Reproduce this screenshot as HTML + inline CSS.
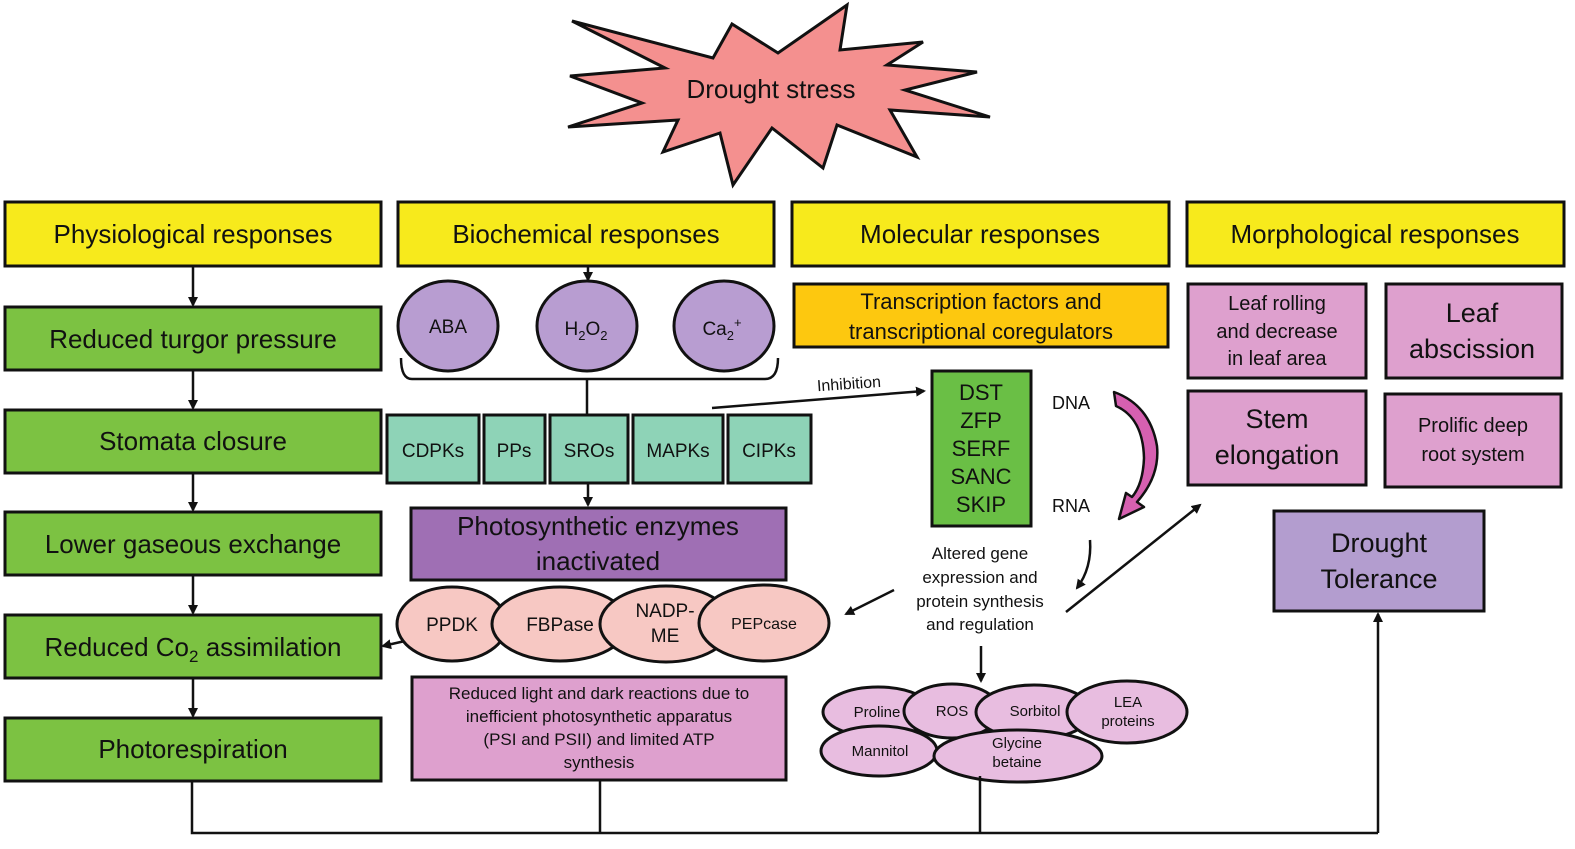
<!DOCTYPE html>
<html><head><meta charset="utf-8"><style>
html,body{margin:0;padding:0;background:#fff}
svg{display:block}
text{font-family:"Liberation Sans",Arial,sans-serif;fill:#111}
</style></head><body>
<svg width="1575" height="849" viewBox="0 0 1575 849" xmlns="http://www.w3.org/2000/svg">
<defs>
<marker id="ah" markerWidth="10" markerHeight="10" refX="8" refY="5" orient="auto" markerUnits="userSpaceOnUse">
<path d="M0,0 L10,5 L0,10 z" fill="#111"/></marker>
</defs>
<polygon points="572,21 713,58 732,24 778,53 847,5 840,50 923,42 887,65 977,72 905,90 990,117 890,110 917,157 837,125 823,168 772,128 733,185 720,133 663,152 678,120 568,127 642,103 570,76 665,68" fill="#f4908f" stroke="#111" stroke-width="3" stroke-linejoin="miter"/>
<text x="771" y="98" font-size="26" text-anchor="middle">Drought stress</text>

<g stroke="#111" stroke-width="3" fill="#f7ea1c">
<rect x="5" y="202" width="376" height="64"/>
<rect x="398" y="202" width="376" height="64"/>
<rect x="792" y="202" width="377" height="64"/>
<rect x="1187" y="202" width="377" height="64"/>
</g>
<g font-size="26" text-anchor="middle">
<text x="193" y="243">Physiological responses</text>
<text x="586" y="243">Biochemical responses</text>
<text x="980" y="243">Molecular responses</text>
<text x="1375" y="243">Morphological responses</text>
</g>

<g stroke="#111" stroke-width="3" fill="#7cc242">
<rect x="5" y="307" width="376" height="63"/>
<rect x="5" y="410" width="376" height="63"/>
<rect x="5" y="512" width="376" height="63"/>
<rect x="5" y="615" width="376" height="63"/>
<rect x="5" y="718" width="376" height="63"/>
</g>
<g font-size="26" text-anchor="middle">
<text x="193" y="348">Reduced turgor pressure</text>
<text x="193" y="450">Stomata closure</text>
<text x="193" y="553">Lower gaseous exchange</text>
<text x="193" y="656">Reduced Co<tspan font-size="17" dy="6">2</tspan><tspan dy="-6"> assimilation</tspan></text>
<text x="193" y="758">Photorespiration</text>
</g>
<g stroke="#111" stroke-width="2.5" marker-end="url(#ah)">
<line x1="193" y1="267" x2="193" y2="305"/>
<line x1="193" y1="371" x2="193" y2="408"/>
<line x1="193" y1="474" x2="193" y2="510"/>
<line x1="193" y1="576" x2="193" y2="613"/>
<line x1="193" y1="679" x2="193" y2="716"/>
<line x1="588" y1="267" x2="588" y2="280"/>
<line x1="588" y1="483" x2="588" y2="505"/>
<line x1="405" y1="641" x2="383" y2="646"/>
</g>

<g stroke="#111" stroke-width="3" fill="#b89dd1">
<ellipse cx="448" cy="326" rx="50" ry="45"/>
<ellipse cx="587" cy="326" rx="50" ry="45"/>
<ellipse cx="724" cy="326" rx="50" ry="45"/>
</g>
<g font-size="19" text-anchor="middle">
<text x="448" y="333">ABA</text>
<text x="586" y="335">H<tspan font-size="13" dy="5">2</tspan><tspan dy="-5">O</tspan><tspan font-size="13" dy="5">2</tspan></text>
<text x="722" y="335">Ca<tspan font-size="13" dy="5">2</tspan><tspan font-size="13" dy="-13">+</tspan></text>
</g>
<path d="M401,358 Q401,379 412,379 L765,379 Q778,379 778,358" fill="none" stroke="#111" stroke-width="2.5"/>
<line x1="587" y1="379" x2="587" y2="415" stroke="#111" stroke-width="2.5"/>

<g stroke="#111" stroke-width="3" fill="#8ed3b7">
<rect x="387" y="415" width="92" height="68"/>
<rect x="484" y="415" width="61" height="68"/>
<rect x="550" y="415" width="78" height="68"/>
<rect x="633" y="415" width="90" height="68"/>
<rect x="728" y="415" width="83" height="68"/>
</g>
<g font-size="19" text-anchor="middle">
<text x="433" y="457">CDPKs</text>
<text x="514" y="457">PPs</text>
<text x="589" y="457">SROs</text>
<text x="678" y="457">MAPKs</text>
<text x="769" y="457">CIPKs</text>
</g>

<rect x="411" y="508" width="375" height="72" fill="#9f6fb4" stroke="#111" stroke-width="3"/>
<g font-size="26" text-anchor="middle">
<text x="598" y="535">Photosynthetic enzymes</text>
<text x="598" y="570">inactivated</text>
</g>

<g stroke="#111" stroke-width="3" fill="#f7c8c3">
<ellipse cx="452" cy="624" rx="55" ry="37"/>
<ellipse cx="560" cy="624" rx="68" ry="37"/>
<ellipse cx="666" cy="624" rx="66" ry="38"/>
<ellipse cx="764" cy="623" rx="65" ry="38"/>
</g>
<g font-size="19" text-anchor="middle">
<text x="452" y="631">PPDK</text>
<text x="560" y="631">FBPase</text>
<text x="665" y="617">NADP-</text>
<text x="665" y="642">ME</text>
<text x="764" y="629" font-size="16">PEPcase</text>
</g>

<rect x="412" y="677" width="374" height="103" fill="#dea0ce" stroke="#111" stroke-width="3"/>
<g font-size="17" text-anchor="middle">
<text x="599" y="699">Reduced light and dark reactions due to</text>
<text x="599" y="722">inefficient photosynthetic apparatus</text>
<text x="599" y="745">(PSI and PSII) and limited ATP</text>
<text x="599" y="768">synthesis</text>
</g>

<rect x="794" y="284" width="374" height="63" fill="#fdc80f" stroke="#111" stroke-width="3"/>
<g font-size="22" text-anchor="middle">
<text x="981" y="309">Transcription factors and</text>
<text x="981" y="339">transcriptional coregulators</text>
</g>
<line x1="712" y1="408" x2="924" y2="391" stroke="#111" stroke-width="2.5" marker-end="url(#ah)"/>
<text x="817" y="389" font-size="16" transform="rotate(-4 850 385)">Inhibition</text>

<rect x="932" y="371" width="99" height="155" fill="#6abf45" stroke="#111" stroke-width="3"/>
<g font-size="22" text-anchor="middle">
<text x="981" y="400">DST</text>
<text x="981" y="428">ZFP</text>
<text x="981" y="456">SERF</text>
<text x="981" y="484">SANC</text>
<text x="981" y="512">SKIP</text>
</g>
<text x="1071" y="409" font-size="18" text-anchor="middle">DNA</text>
<text x="1071" y="512" font-size="18" text-anchor="middle">RNA</text>
<path d="M1114,392 L1116,406 Q1143,418 1144,458 Q1143,484 1132,497 L1126,493 L1119,519 L1144,507 L1137,502 Q1160,476 1157,446 Q1150,405 1114,392 z" fill="#d660b0" stroke="#111" stroke-width="2.5" stroke-linejoin="round"/>
<path d="M1090,540 Q1092,568 1077,588" fill="none" stroke="#111" stroke-width="2.5" marker-end="url(#ah)"/>

<g font-size="17" text-anchor="middle">
<text x="980" y="559">Altered gene</text>
<text x="980" y="583">expression and</text>
<text x="980" y="607">protein synthesis</text>
<text x="980" y="630">and regulation</text>
</g>
<g stroke="#111" stroke-width="2.5" marker-end="url(#ah)">
<line x1="894" y1="590" x2="846" y2="614"/>
<line x1="1066" y1="612" x2="1200" y2="505"/>
<line x1="981" y1="646" x2="981" y2="681"/>
<line x1="1378" y1="833" x2="1378" y2="614"/>
</g>

<g stroke="#111" stroke-width="3" fill="#e8bde0">
<ellipse cx="878" cy="712" rx="55" ry="25"/>
<ellipse cx="952" cy="711" rx="48" ry="27"/>
<ellipse cx="1034" cy="712" rx="58" ry="27"/>
<ellipse cx="1127" cy="712" rx="60" ry="31"/>
<ellipse cx="879" cy="751" rx="58" ry="25"/>
<ellipse cx="1018" cy="756" rx="84" ry="26"/>
</g>
<g font-size="15" text-anchor="middle">
<text x="877" y="717">Proline</text>
<text x="952" y="716">ROS</text>
<text x="1035" y="716">Sorbitol</text>
<text x="1128" y="707">LEA</text>
<text x="1128" y="726">proteins</text>
<text x="880" y="756">Mannitol</text>
<text x="1017" y="748">Glycine</text>
<text x="1017" y="767">betaine</text>
</g>

<g stroke="#111" stroke-width="3" fill="#dea0ce">
<rect x="1188" y="284" width="178" height="94"/>
<rect x="1386" y="284" width="176" height="94"/>
<rect x="1188" y="391" width="178" height="94"/>
<rect x="1385" y="394" width="176" height="93"/>
</g>
<g text-anchor="middle">
<text x="1277" y="310" font-size="20">Leaf rolling</text>
<text x="1277" y="338" font-size="20">and decrease</text>
<text x="1277" y="365" font-size="20">in leaf area</text>
<text x="1472" y="322" font-size="27">Leaf</text>
<text x="1472" y="358" font-size="27">abscission</text>
<text x="1277" y="428" font-size="27">Stem</text>
<text x="1277" y="464" font-size="27">elongation</text>
<text x="1473" y="432" font-size="20">Prolific deep</text>
<text x="1473" y="461" font-size="20">root system</text>
</g>
<rect x="1274" y="511" width="210" height="100" fill="#b39dcf" stroke="#111" stroke-width="3"/>
<g font-size="27" text-anchor="middle">
<text x="1379" y="552">Drought</text>
<text x="1379" y="588">Tolerance</text>
</g>

<g stroke="#111" stroke-width="2.5" fill="none">
<path d="M192,782 L192,833 L1378,833"/>
<line x1="600" y1="781" x2="600" y2="833"/>
<line x1="980" y1="776" x2="980" y2="833"/>
</g>
</svg>
</body></html>
